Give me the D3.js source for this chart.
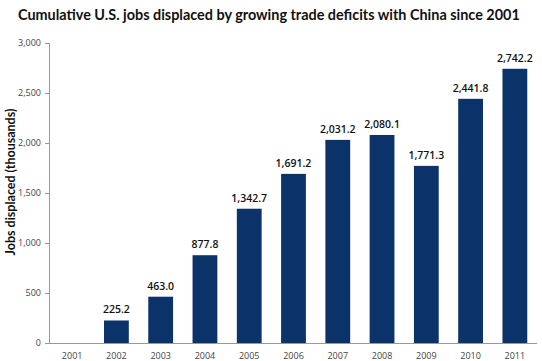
<!DOCTYPE html>
<html>
<head>
<meta charset="utf-8">
<script src="https://cdn.jsdelivr.net/npm/d3@7"></script>
<style>
  body { margin: 0; background: #fff; }
  text { font-family: "Open Sans", "Noto Sans", sans-serif; }
</style>
</head>
<body>
<div id="chart"></div>
<script>
// Data
var years = ["2001", "2002", "2003", "2004", "2005", "2006", "2007", "2008", "2009", "2010", "2011"];
var jobs = [0, 225.2, 463.0, 877.8, 1342.7, 1691.2, 2031.2, 2080.1, 1771.3, 2441.8, 2742.2];
var yTicks = [0, 500, 1000, 1500, 2000, 2500, 3000];

var svgWidth = 542;
var svgHeight = 361;

var margin = { top: 43, bottom: 18, left: 49, right: 5 };
var width = svgWidth - margin.left - margin.right;
var height = svgHeight - margin.top - margin.bottom;

var svg = d3.select("#chart")
  .append("svg")
  .attr("width", svgWidth)
  .attr("height", svgHeight);

var chartGroup = svg.append("g")
  .attr("transform", `translate(${margin.left}, ${margin.top})`);

var data = years.map((y, i) => ({ year: y, value: jobs[i] }));

// scales
var xScale = d3.scaleBand()
  .domain(years)
  .range([1, width])
  .paddingInner(0.44)
  .paddingOuter(0.22);

var yScale = d3.scaleLinear()
  .domain([0, 3000])
  .range([height, 0]);

// title - shrink the font until it fits the width used in the reference
var title = svg.append("text")
  .attr("x", 18)
  .attr("y", 20)
  .attr("font-size", "15.5px")
  .attr("font-weight", "700")
  .attr("fill", "#111")
  .style("font-family", "Lato, 'Open Sans', sans-serif")
  .text("Cumulative U.S. jobs displaced by growing trade deficits with China since 2001");

var titleLen = title.node().getComputedTextLength();
if (titleLen > 502) {
  title.attr("font-size", (15.5 * 502 / titleLen).toFixed(2) + "px");
}

// y axis
var leftAxis = d3.axisLeft(yScale)
  .tickValues(yTicks)
  .tickFormat(d3.format(","))
  .tickSize(4)
  .tickPadding(4);

var yAxisG = chartGroup.append("g").call(leftAxis);
yAxisG.select(".domain").attr("stroke", "#999");
yAxisG.selectAll(".tick line").attr("stroke", "#999");
yAxisG.selectAll(".tick text")
  .attr("fill", "#444")
  .attr("font-size", "9px")
  .style("font-family", "'Open Sans', sans-serif");

// x axis
var bottomAxis = d3.axisBottom(xScale).tickSize(0).tickPadding(10);
var xAxisG = chartGroup.append("g")
  .attr("transform", `translate(0, ${height})`)
  .call(bottomAxis);
xAxisG.select(".domain").attr("stroke", "#999").attr("d", `M0,0.5H${width}`);
xAxisG.selectAll(".tick text")
  .attr("fill", "#444")
  .attr("font-size", "9px")
  .style("font-family", "'Open Sans', sans-serif");

// y axis label
svg.append("text")
  .attr("transform", "rotate(-90)")
  .attr("x", -182)
  .attr("y", 15)
  .attr("text-anchor", "middle")
  .attr("font-size", "12.5px")
  .attr("font-weight", "700")
  .attr("fill", "#111")
  .style("font-family", "Lato, 'Open Sans', sans-serif")
  .text("Jobs displaced (thousands)");

// bars
chartGroup.selectAll(null)
  .data(data.filter(d => d.value > 0))
  .enter()
  .append("rect")
  .attr("x", d => xScale(d.year))
  .attr("y", d => yScale(d.value))
  .attr("width", xScale.bandwidth())
  .attr("height", d => height - yScale(d.value))
  .attr("fill", "#0b3269");

// value labels
chartGroup.selectAll(null)
  .data(data.filter(d => d.value > 0))
  .enter()
  .append("text")
  .attr("x", d => xScale(d.year) + xScale.bandwidth() / 2)
  .attr("y", d => yScale(d.value) - 7)
  .attr("text-anchor", "middle")
  .attr("font-size", "10.5px")
  .attr("font-weight", "600")
  .attr("fill", "#111")
  .text(d => d3.format(",.1f")(d.value));
</script>
</body>
</html>
